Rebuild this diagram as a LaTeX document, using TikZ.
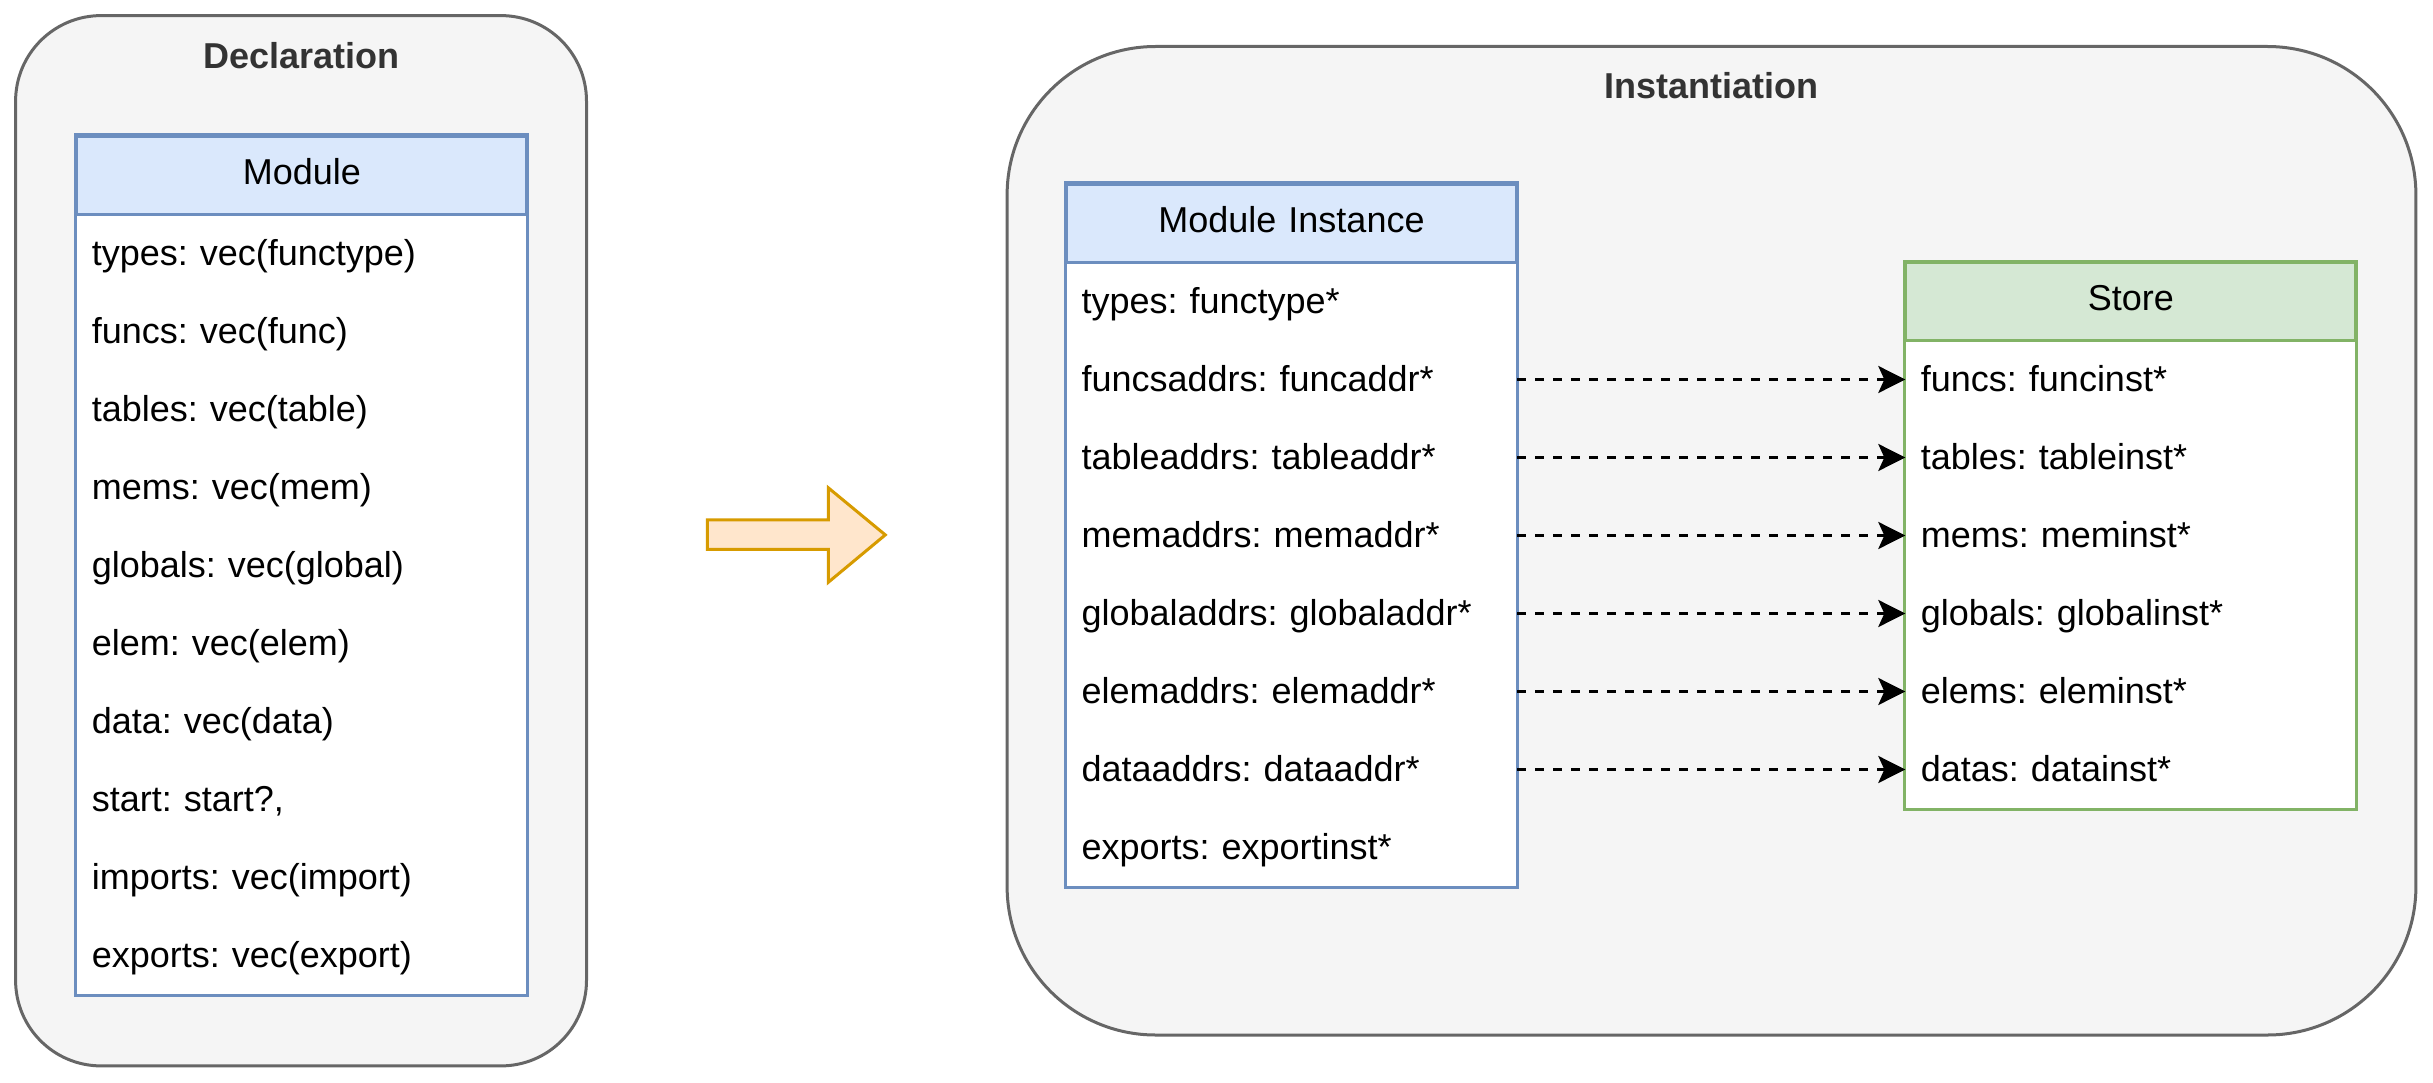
\documentclass[tikz,border=0pt]{standalone}
\usepackage{fontspec}
\setmainfont{Liberation Sans}
\usetikzlibrary{arrows.meta}
\definecolor{contfill}{HTML}{F5F5F5}
\definecolor{contdraw}{HTML}{666666}
\definecolor{titletext}{HTML}{333333}
\definecolor{bluefill}{HTML}{DAE8FC}
\definecolor{bluedraw}{HTML}{6C8EBF}
\definecolor{greenfill}{HTML}{D5E8D4}
\definecolor{greendraw}{HTML}{82B366}
\definecolor{orangefill}{HTML}{FFE6CC}
\definecolor{orangedraw}{HTML}{D79B00}
\frenchspacing
\begin{document}
\begin{tikzpicture}[x=1pt,y=-1pt,
  font=\fontsize{12pt}{14pt}\selectfont,
  container/.style={draw=contdraw, fill=contfill, line width=1pt, inner sep=0pt},
  titletxt/.style={font=\fontsize{12pt}{14pt}\selectfont\bfseries, text=titletext, anchor=base, inner sep=0pt},
  rowitem/.style={fill=white, text width=140pt, align=left, inner xsep=5pt, inner ysep=0pt,
    minimum height=26pt, text height=10pt, text depth=2pt},
  headbox/.style={text width=140pt, align=center, inner xsep=5pt, inner ysep=0pt,
    minimum height=26pt, text height=9pt, text depth=3pt, line width=1pt},
  link/.style={draw=black, line width=1pt, dash pattern=on 3pt off 3pt,
    -{Stealth[length=9pt,width=9pt,inset=2pt]}}
]
\useasboundingbox (0,0) rectangle (811,361);

% containers
\node[container, minimum width=190.3pt, minimum height=350.1pt, rounded corners=28.5pt] (decl) at (100.35,180.25) {};
\node[container, minimum width=469.6pt, minimum height=329.5pt, rounded corners=49.5pt] (inst) at (570.5,180.25) {};
\node[titletxt] (declt) at (100.35,23) {Declaration};
\node[titletxt] (instt) at (570.5,32.8) {Instantiation};

% Module
\node[rowitem] (m1) at (100.6,84.5) {types: vec(functype)};
\node[rowitem] (m2) at (100.6,110.5) {funcs: vec(func)};
\node[rowitem] (m3) at (100.6,136.5) {tables: vec(table)};
\node[rowitem] (m4) at (100.6,162.5) {mems: vec(mem)};
\node[rowitem] (m5) at (100.6,188.5) {globals: vec(global)};
\node[rowitem] (m6) at (100.6,214.5) {elem: vec(elem)};
\node[rowitem] (m7) at (100.6,240.5) {data: vec(data)};
\node[rowitem] (m8) at (100.6,266.5) {start: start?,};
\node[rowitem] (m9) at (100.6,292.5) {imports: vec(import)};
\node[rowitem] (m10) at (100.6,318.5) {exports: vec(export)};
\node[headbox, fill=bluefill, draw=bluedraw] (mh) at (100.6,58.5) {Module};
\draw[bluedraw, line width=1pt] (mh.north west) rectangle (m10.south east);

% Module Instance
\node[rowitem] (i1) at (430.5,100.5) {types: functype*};
\node[rowitem] (i2) at (430.5,126.5) {funcsaddrs: funcaddr*};
\node[rowitem] (i3) at (430.5,152.5) {tableaddrs: tableaddr*};
\node[rowitem] (i4) at (430.5,178.5) {memaddrs: memaddr*};
\node[rowitem] (i5) at (430.5,204.5) {globaladdrs: globaladdr*};
\node[rowitem] (i6) at (430.5,230.5) {elemaddrs: elemaddr*};
\node[rowitem] (i7) at (430.5,256.5) {dataaddrs: dataaddr*};
\node[rowitem] (i8) at (430.5,282.5) {exports: exportinst*};
\node[headbox, fill=bluefill, draw=bluedraw] (ih) at (430.5,74.5) {Module Instance};
\draw[bluedraw, line width=1pt] (ih.north west) rectangle (i8.south east);

% Store
\node[rowitem] (s1) at (710.3,126.5) {funcs: funcinst*};
\node[rowitem] (s2) at (710.3,152.5) {tables: tableinst*};
\node[rowitem] (s3) at (710.3,178.5) {mems: meminst*};
\node[rowitem] (s4) at (710.3,204.5) {globals: globalinst*};
\node[rowitem] (s5) at (710.3,230.5) {elems: eleminst*};
\node[rowitem] (s6) at (710.3,256.5) {datas: datainst*};
\node[headbox, fill=greenfill, draw=greendraw] (sh) at (710.3,100.5) {Store};
\draw[greendraw, line width=1pt] (sh.north west) rectangle (s6.south east);

% links
\draw[link] (i2.east) -- (s1.west);
\draw[link] (i3.east) -- (s2.west);
\draw[link] (i4.east) -- (s3.west);
\draw[link] (i5.east) -- (s4.west);
\draw[link] (i6.east) -- (s5.west);
\draw[link] (i7.east) -- (s6.west);

% block arrow
\draw[fill=orangefill, draw=orangedraw, line width=1pt]
  (235.8,173.3) -- (276.1,173.3) -- (276.1,162.6) -- (295.1,178.3)
  -- (276.1,194.1) -- (276.1,183.1) -- (235.8,183.1) -- cycle;
\end{tikzpicture}
\end{document}
